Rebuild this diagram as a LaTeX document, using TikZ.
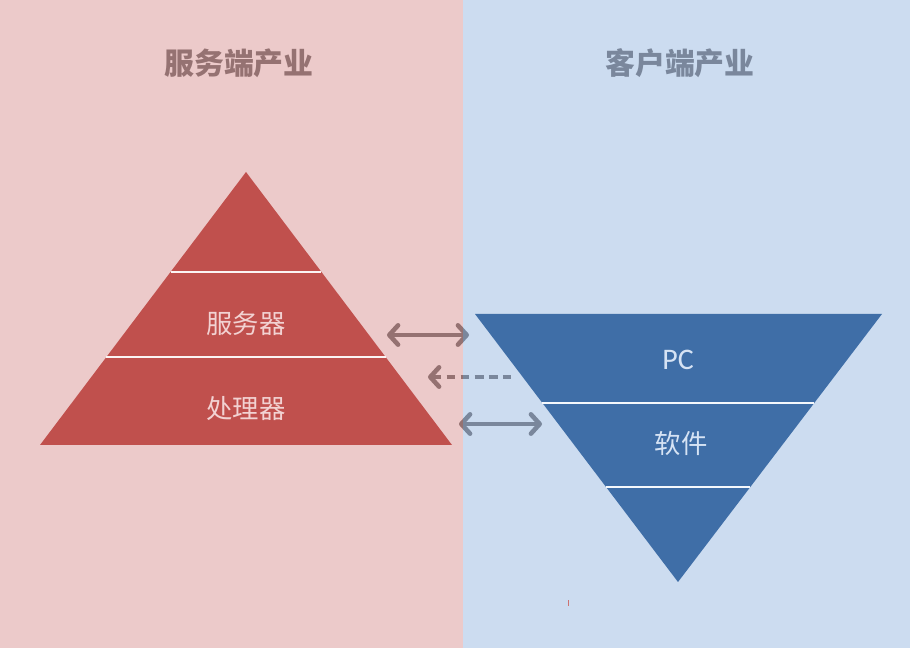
\documentclass[tikz,border=0pt]{standalone}
\usepackage{fontspec}
\newfontfamily\cjk{Noto Sans CJK SC}
\newfontfamily\latin{Carlito}
\usepackage{xcolor}
\usetikzlibrary{arrows.meta,calc}
\definecolor{srvbg}{HTML}{ECCACA}
\definecolor{clibg}{HTML}{CCDCF0}
\definecolor{srvred}{HTML}{C0504D}
\definecolor{cliblue}{HTML}{3F6EA7}
\definecolor{srvtitle}{HTML}{957272}
\definecolor{clititle}{HTML}{7A879C}
\definecolor{srvtext}{HTML}{F2D2D2}
\definecolor{clitext}{HTML}{D6E3F4}

\begin{document}
\begin{tikzpicture}[x=0.02cm,y=-0.02cm,
  divider/.style={white!80!srvbg, line width=1.1pt},
  layertext/.style={font=\cjk\fontsize{15}{18}\selectfont},
  headtext/.style={font=\cjk\bfseries\fontsize{17}{20}\selectfont},
  link/.style={line width=2.6pt, line cap=round,
    {Straight Barb[length=5pt,width=11pt,line cap=round,line join=round]}-{Straight Barb[length=5pt,width=11pt,line cap=round,line join=round]}},
  backlink/.style={line width=2.6pt, dash pattern=on 5pt off 3pt,
    {Straight Barb[length=5pt,width=11pt,line cap=round,line join=round]}-}]
  % two halves
  \fill[srvbg] (0,0) rectangle (463,648);
  \fill[clibg] (463,0) rectangle (910,648);
  \node[headtext, text=srvtitle] (srvhead) at (239,63) {服务端产业};
  \node[headtext, text=clititle] (clihead) at (680,63) {客户端产业};
  % server pyramid
  \coordinate (srvtop) at (246,172);
  \coordinate (srvleft) at (40,445);
  \coordinate (srvright) at (452,445);
  \fill[srvred] (srvtop) -- (srvleft) -- (srvright) -- cycle;
  \draw[divider] ($(srvtop)!0.366!(srvleft)$) -- ($(srvtop)!0.366!(srvright)$);
  \draw[divider] ($(srvtop)!0.678!(srvleft)$) -- ($(srvtop)!0.678!(srvright)$);
  \node[layertext, text=srvtext] (server) at (246,323) {服务器};
  \node[layertext, text=srvtext] (cpu) at (246,409) {处理器};
  % client funnel
  \coordinate (clibot) at (678,582);
  \coordinate (clileft) at (475,314);
  \coordinate (cliright) at (882,314);
  \fill[cliblue] (clibot) -- (clileft) -- (cliright) -- cycle;
  \draw[divider, white!80!clibg] ($(clileft)!0.332!(clibot)$) -- ($(cliright)!0.332!(clibot)$);
  \draw[divider, white!80!clibg] ($(clileft)!0.646!(clibot)$) -- ($(cliright)!0.646!(clibot)$);
  \node[layertext, text=clitext, font=\latin\fontsize{17}{20}\selectfont] (pc) at (678,360) {PC};
  \node[layertext, text=clitext] (soft) at (681,443) {软件};
  % links, tinted by the half they cross
  \coordinate (serveredge) at (387,335);
  \coordinate (pcedge) at (469,335);
  \coordinate (dashstart) at (511,377);
  \coordinate (dashend) at (428,377);
  \coordinate (cpuedge) at (459,424);
  \coordinate (softedge) at (542,424);
  \foreach \xa/\xb/\ink in {0/463/srvtitle, 463/910/clititle} {
    \begin{scope}
      \clip (\xa,0) rectangle (\xb,648);
      \draw[link, \ink] (serveredge) -- (pcedge);
      \draw[backlink, \ink] (dashend) -- (dashstart);
      \draw[link, \ink] (cpuedge) -- (softedge);
    \end{scope}
  }
  \fill[srvred!80] (567.6,600) rectangle (569.4,606);
\end{tikzpicture}
\end{document}
